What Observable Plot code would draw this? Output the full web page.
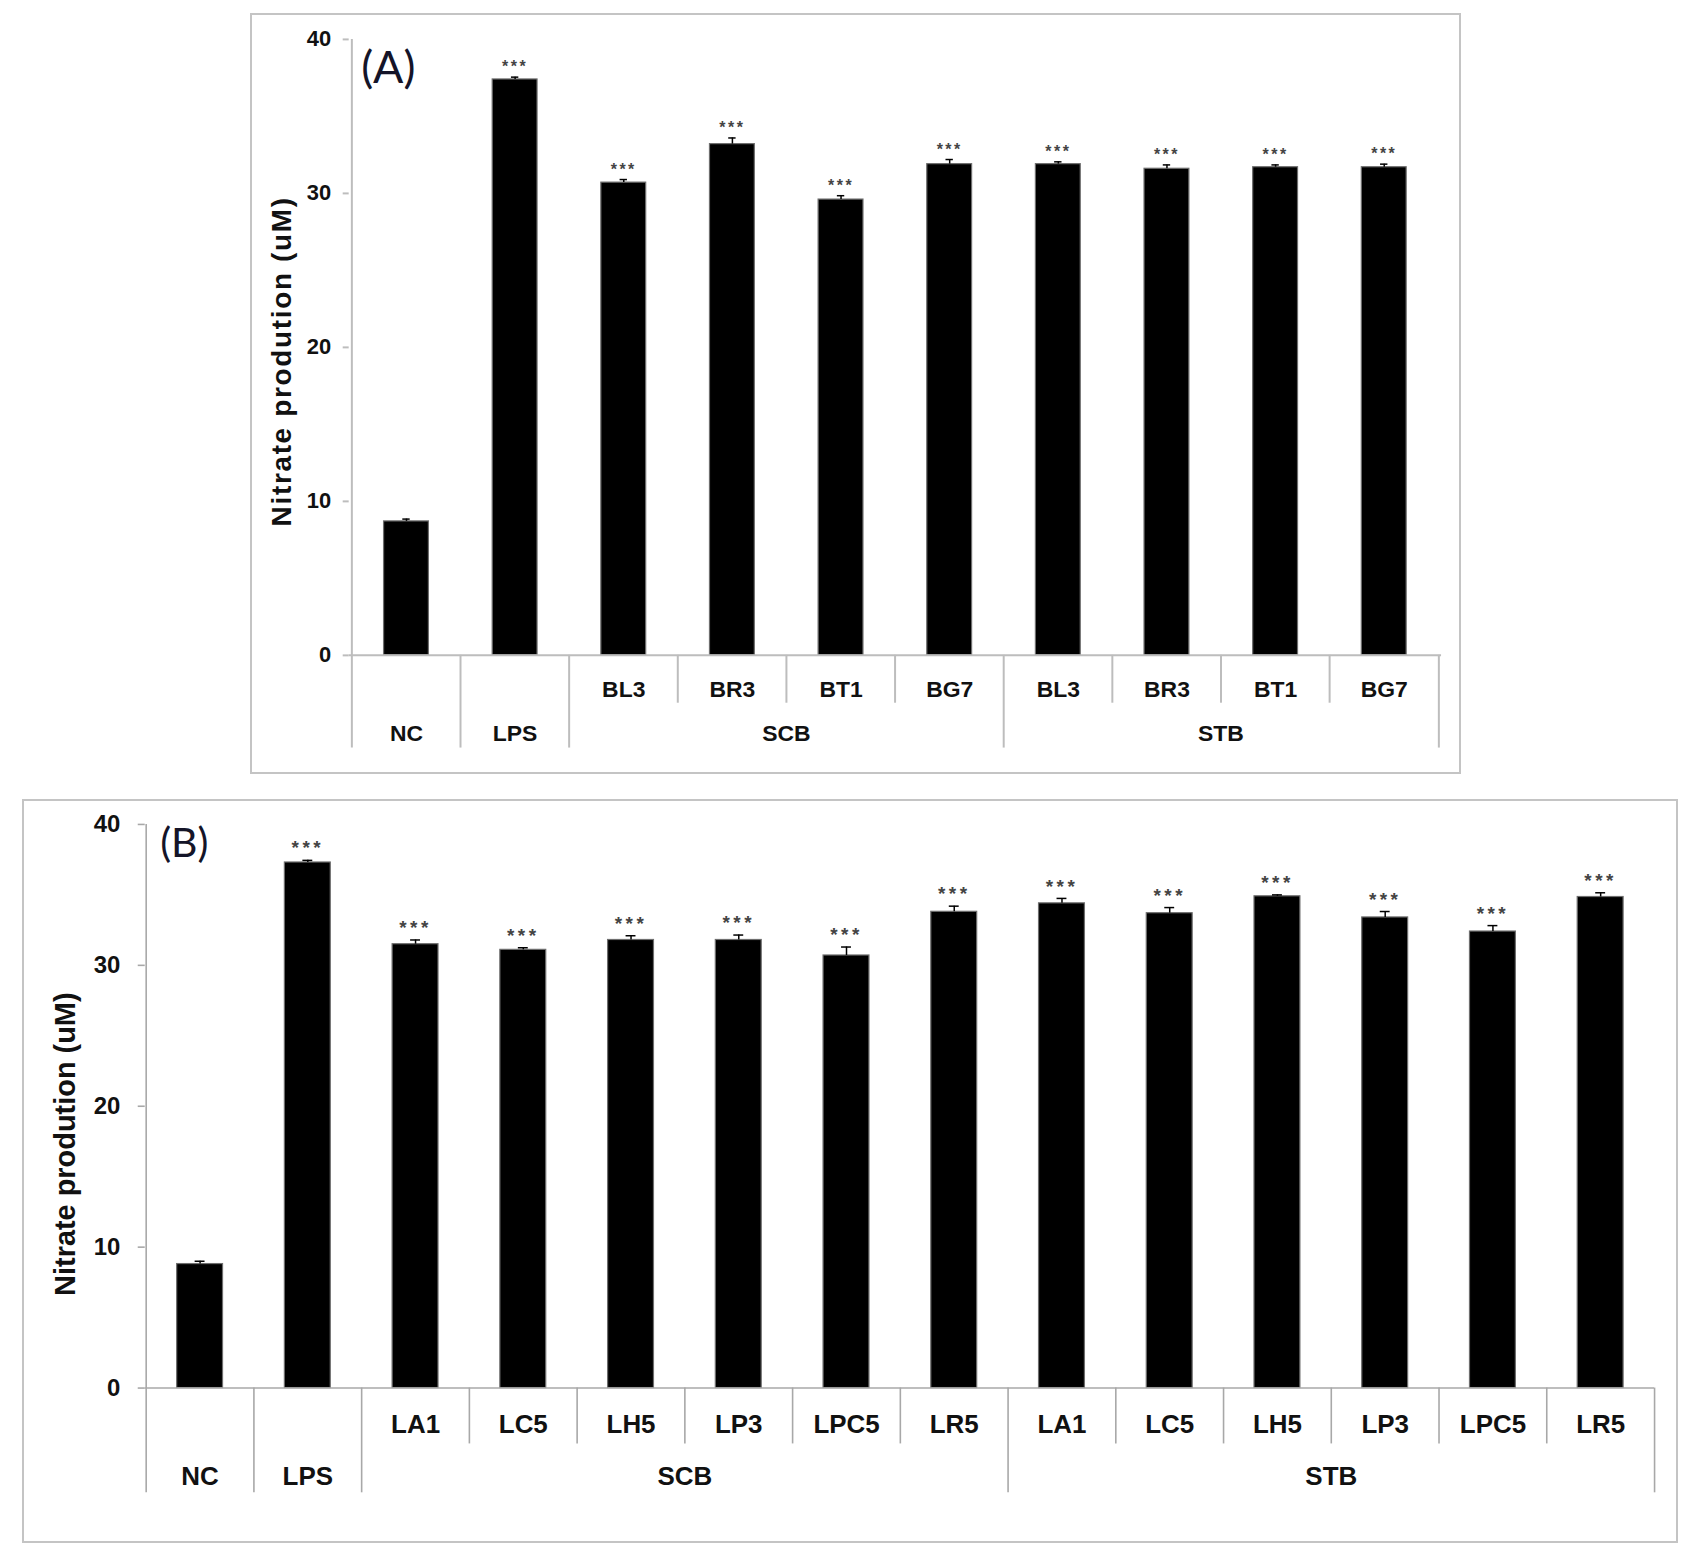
<!DOCTYPE html>
<html>
<head>
<meta charset="utf-8">
<script src="https://cdn.jsdelivr.net/npm/d3@7"></script>
<script src="https://cdn.jsdelivr.net/npm/@observablehq/plot@0.6"></script>
<style>
  html, body { margin: 0; padding: 0; background: #fff; }
  #page { position: relative; width: 1700px; height: 1560px; background: #fff; overflow: hidden; }
  .panel { position: absolute; box-sizing: border-box; border: 2px solid #c4c4c4; background: #fff; }
  .panel svg { position: absolute; left: -2px; top: -2px; overflow: visible; }
</style>
</head>
<body>
<div id="page">
  <div class="panel" id="panelA"></div>
  <div class="panel" id="panelB"></div>
</div>
<script>
// ---------- Panel A data ----------
const groupsA = ["", "", "SCB", "SCB", "SCB", "SCB", "STB", "STB", "STB", "STB"];
const labelsA = ["NC", "LPS", "BL3", "BR3", "BT1", "BG7", "BL3", "BR3", "BT1", "BG7"];
const valuesA = [8.7, 37.4, 30.7, 33.2, 29.6, 31.9, 31.9, 31.6, 31.7, 31.7];
const errorsA = [0.15, 0.15, 0.2, 0.4, 0.25, 0.3, 0.15, 0.25, 0.15, 0.2];
const starsA  = ["", "***", "***", "***", "***", "***", "***", "***", "***", "***"];

// ---------- Panel B data ----------
const groupsB = ["", "", "SCB", "SCB", "SCB", "SCB", "SCB", "SCB", "STB", "STB", "STB", "STB", "STB", "STB"];
const labelsB = ["NC", "LPS", "LA1", "LC5", "LH5", "LP3", "LPC5", "LR5", "LA1", "LC5", "LH5", "LP3", "LPC5", "LR5"];
const valuesB = [8.8, 37.3, 31.5, 31.1, 31.8, 31.8, 30.7, 33.8, 34.4, 33.7, 34.9, 33.4, 32.4, 34.85];
const errorsB = [0.2, 0.15, 0.3, 0.15, 0.3, 0.35, 0.6, 0.4, 0.35, 0.4, 0.1, 0.42, 0.42, 0.3];
const starsB  = ["", "***", "***", "***", "***", "***", "***", "***", "***", "***", "***", "***", "***", "***"];

const yTicks = [0, 10, 20, 30, 40];
const yLabel = "Nitrate prodution (uM)";

function buildRows(groups, labels, values, errors, stars) {
  return labels.map((label, i) => ({
    key: (groups[i] ? groups[i] + " " : "") + label,
    group: groups[i], label, value: values[i], err: errors[i], star: stars[i]
  }));
}

function makePanel(cfg) {
  const rows = buildRows(cfg.groups, cfg.labels, cfg.values, cfg.errors, cfg.stars);
  const n = rows.length;
  const innerW = cfg.width - cfg.ml - cfg.mr;
  const innerH = cfg.height - cfg.mt - cfg.mb;
  const bw = innerW / n;
  const pxU = innerH / 40;
  const below = px => -px / pxU;

  // separators at left edge of each category
  const bounds = rows.map((d, i) => {
    const prev = rows[i - 1];
    const long = i === 0 || !d.group || !prev.group || prev.group !== d.group;
    return { key: d.key, long };
  });

  // group spans for the second label row
  const spans = [];
  rows.forEach((d, i) => {
    if (!d.group) return;
    let g = spans.find(s => s.name === d.group);
    if (!g) { g = { name: d.group, first: i, count: 0 }; spans.push(g); }
    g.count++;
  });
  const row2 = [
    ...rows.filter(d => !d.group).map(d => ({ key: d.key, text: d.label, even: false })),
    ...spans.map(g => ({ key: rows[g.first + Math.floor(g.count / 2)].key, text: g.name, even: g.count % 2 === 0 }))
  ];

  const lineStroke = cfg.lineColor;
  const lineW = cfg.lineWidth;
  const txt = { fontFamily: cfg.catFont, fontWeight: "bold", fontSize: cfg.catSize, fill: "#111",
                frameAnchor: "bottom", lineAnchor: "middle" };

  const plot = Plot.plot({
    width: cfg.width,
    height: cfg.height,
    marginLeft: cfg.ml, marginRight: cfg.mr, marginTop: cfg.mt, marginBottom: cfg.mb,
    style: { fontFamily: "Liberation Sans, Arial, sans-serif", background: "transparent", overflow: "visible" },
    x: { domain: rows.map(d => d.key), padding: 0, axis: null },
    y: { domain: [0, 40], axis: null },
    marks: [
      // bars
      Plot.barY(rows, { x: "key", y: "value", fill: "#000", stroke: "#6e6e6e", strokeWidth: 1.2,
                        insetLeft: cfg.barInset, insetRight: cfg.barInset }),
      // error bars
      Plot.ruleX(rows, { x: "key", y1: "value", y2: d => d.value + d.err, stroke: "#000", strokeWidth: 1.5 }),
      Plot.tickY(rows, { x: "key", y: d => d.value + d.err, stroke: "#000", strokeWidth: 1.5,
                         insetLeft: bw / 2 - cfg.capHalf, insetRight: bw / 2 - cfg.capHalf }),
      // significance stars
      Plot.text(rows.filter(d => d.star), { x: "key", y: d => d.value + d.err, text: "star",
        dy: cfg.starDy, fontSize: cfg.starSize, fill: "#444", fontWeight: "bold",
        fontFamily: "Liberation Sans, Arial, sans-serif", lineAnchor: "middle" }),
      // y axis line (from top to below the category area)
      Plot.ruleX([rows[0]], { x: "key", dx: -bw / 2, y1: 40, y2: below(cfg.drop2), stroke: lineStroke, strokeWidth: lineW }),
      // y axis ticks + labels
      Plot.axisY({ ticks: yTicks, tickSize: cfg.tickSize, tickPadding: cfg.tickPadding, stroke: lineStroke,
                   strokeWidth: lineW, fill: "#111", fontSize: cfg.tickFontSize, fontWeight: "bold",
                   fontFamily: cfg.tickFont, label: null, tickFormat: d => String(d) }),
      // baseline
      Plot.ruleY([0], { stroke: lineStroke, strokeWidth: lineW }),
      // category separators
      Plot.ruleX(bounds.filter((b, i) => i > 0 && b.long), { x: "key", dx: -bw / 2, y1: 0, y2: below(cfg.drop2), stroke: lineStroke, strokeWidth: lineW }),
      Plot.ruleX(bounds.filter(b => !b.long), { x: "key", dx: -bw / 2, y1: 0, y2: below(cfg.drop1), stroke: lineStroke, strokeWidth: lineW }),
      Plot.ruleX([rows[n - 1]], { x: "key", dx: bw / 2, y1: 0, y2: below(cfg.drop2), stroke: lineStroke, strokeWidth: lineW }),
      // first label row (sub-categories)
      Plot.text(rows.filter(d => d.group), { x: "key", text: "label", dy: cfg.row1, ...txt }),
      // second label row (controls and groups)
      Plot.text(row2.filter(d => !d.even), { x: "key", text: "text", dy: cfg.row2, ...txt }),
      Plot.text(row2.filter(d => d.even), { x: "key", text: "text", dy: cfg.row2, dx: -bw / 2, ...txt }),
      // y axis title
      Plot.text([yLabel], { frameAnchor: "left", text: d => d, rotate: -90, dx: cfg.labelDx, dy: cfg.labelDy,
        fontSize: cfg.labelSize, fontWeight: "bold", fill: "#111",
        fontFamily: "Liberation Sans, Arial, sans-serif", textAnchor: "middle", lineAnchor: "middle" }),
      // panel letter
      Plot.text([cfg.letter], { frameAnchor: "top-left", text: d => d, dx: cfg.letterDx, dy: cfg.letterDy,
        fontSize: cfg.letterSize, fill: "#141428", fontFamily: "Lato, 'Open Sans', sans-serif",
        textAnchor: "start", lineAnchor: "middle" })
    ]
  });
  // letter spacing for stars and axis title
  plot.querySelectorAll("text").forEach(t => {
    if (t.textContent === "***") t.setAttribute("letter-spacing", cfg.starSpacing);
    if (t.textContent === yLabel) t.setAttribute("letter-spacing", cfg.labelSpacing);
  });
  return plot;
}

const panelA = document.getElementById("panelA");
Object.assign(panelA.style, { left: "250px", top: "13px", width: "1211px", height: "761px" });
panelA.appendChild(makePanel({
  groups: groupsA, labels: labelsA, values: valuesA, errors: errorsA, stars: starsA,
  width: 1211, height: 761, ml: 99, mr: 16, mt: 26, mb: 117,
  barInset: 32, capHalf: 4, starDy: -10, starSize: 16, starSpacing: "2.5px",
  lineColor: "#bdbdbd", lineWidth: 2,
  drop1: 48, drop2: 93, row1: 34, row2: 79,
  catFont: "'Liberation Sans Narrow', 'Arial Narrow', 'Liberation Sans', sans-serif", catSize: 23,
  tickFont: "'Liberation Sans Narrow', 'Arial Narrow', 'Liberation Sans', sans-serif", tickSize: 6, tickPadding: 12, tickFontSize: 22,
  labelDx: -67, labelDy: 14, labelSize: 28, labelSpacing: "1.7px",
  letter: "(A)", letterDx: 12, letterDy: 29, letterSize: 45
}));

const panelB = document.getElementById("panelB");
Object.assign(panelB.style, { left: "22px", top: "799px", width: "1656px", height: "744px" });
panelB.appendChild(makePanel({
  groups: groupsB, labels: labelsB, values: valuesB, errors: errorsB, stars: starsB,
  width: 1656, height: 744, ml: 123, mr: 20, mt: 25, mb: 154,
  barInset: 31, capHalf: 5, starDy: -12, starSize: 19, starSpacing: "3.5px",
  lineColor: "#a8a8a8", lineWidth: 1.6,
  drop1: 56, drop2: 105, row1: 37, row2: 89,
  catFont: "'Liberation Sans', Arial, sans-serif", catSize: 26,
  tickFont: "'Liberation Sans', Arial, sans-serif", tickSize: 7, tickPadding: 18, tickFontSize: 24,
  labelDx: -80, labelDy: 38, labelSize: 29, labelSpacing: "0px",
  letter: "(B)", letterDx: 15, letterDy: 20, letterSize: 41
}));
</script>
</body>
</html>
